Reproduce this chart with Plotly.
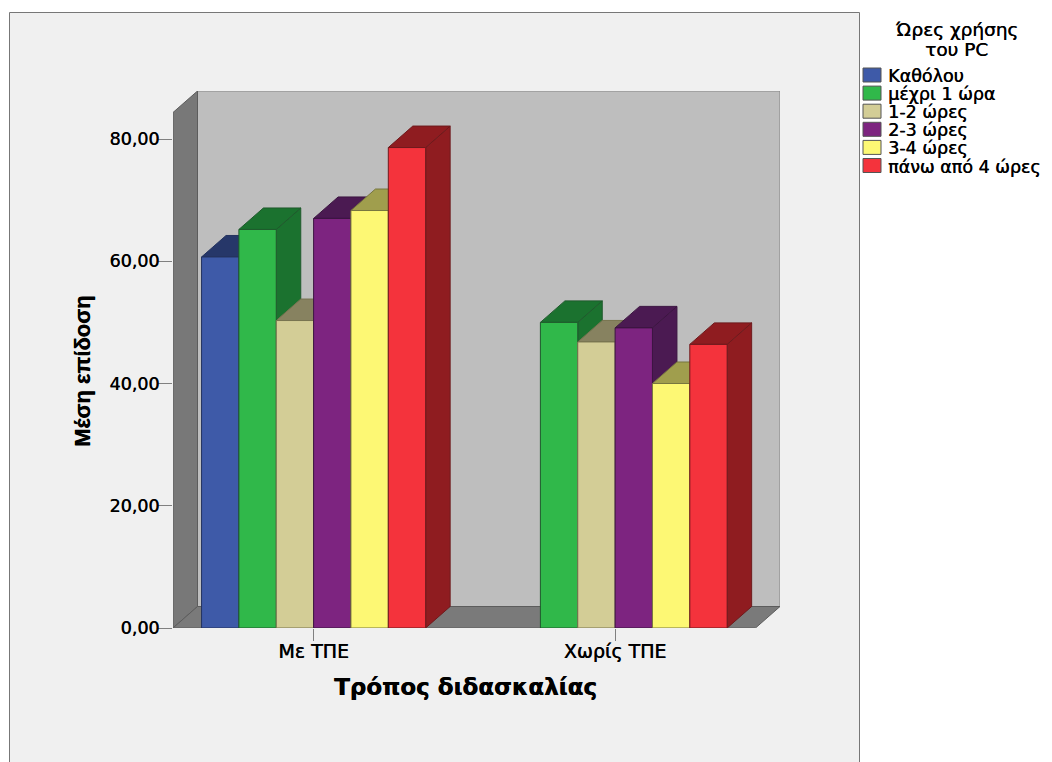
import plotly.graph_objects as go

# Mean performance by teaching method and daily PC hours
methods = ["Με ΤΠΕ", "Χωρίς ΤΠΕ"]
usage_groups = ["Καθόλου", "μέχρι 1 ώρα", "1-2 ώρες", "2-3 ώρες", "3-4 ώρες", "πάνω από 4 ώρες"]
none_at_all = [60.7, None]
up_to_1h = [65.2, 50.0]
h1_2 = [50.3, 46.8]
h2_3 = [67.0, 49.1]
h3_4 = [68.3, 40.0]
over_4h = [78.6, 46.4]
series = [none_at_all, up_to_1h, h1_2, h2_3, h3_4, over_4h]

front_colors = ["#3e5aa8", "#30b84a", "#d3cd96", "#7d2480", "#fdf874", "#f4333c"]
shade_colors = ["#263769", "#1b722f", "#878260", "#4b1a52", "#a09e4d", "#8f1c20"]
edge_colors = ["#24335f", "#1f5a2c", "#77734f", "#3c1541", "#77763f", "#6e1a1c"]

y_ticks = [0, 20, 40, 60, 80]
y_tick_text = ["0,00", "20,00", "40,00", "60,00", "80,00"]

# Plot frame, in page pixels
W, H = 1052, 762
LEFT, RIGHT, TOP, BOTTOM = 173, 780, 91, 628
PX_PER_UNIT_Y = (628 - 139) / 80
PX_PER_GROUP = 301.5
CENTER0 = 313.6

x_range = [(LEFT - CENTER0) / PX_PER_GROUP, (RIGHT - CENTER0) / PX_PER_GROUP]
y_range = [0, (BOTTOM - TOP) / PX_PER_UNIT_Y]
depth_x = 24.5 / PX_PER_GROUP
depth_y = 21.5 / PX_PER_UNIT_Y
bar_w = 37.35 / PX_PER_GROUP

HEAVY = "0.4px 0 0 #000000"


def paper_x(px):
    return (px - LEFT) / (RIGHT - LEFT)


def paper_y(py):
    return (BOTTOM - py) / (BOTTOM - TOP)


fig = go.Figure()

# Side and top faces of each bar, painted left to right
for i, values in enumerate(series):
    for g, v in enumerate(values):
        if v is None:
            continue
        x0 = g + (i - 3) * bar_w
        x1 = x0 + bar_w
        fig.add_trace(go.Scatter(
            x=[x1, x1 + depth_x, x1 + depth_x, x1, x1],
            y=[0, depth_y, v + depth_y, v, 0],
            mode="lines", fill="toself", fillcolor=shade_colors[i],
            line=dict(color=edge_colors[i], width=1),
            hoverinfo="skip", showlegend=False,
        ))
        fig.add_trace(go.Scatter(
            x=[x0, x1, x1 + depth_x, x0 + depth_x, x0],
            y=[v, v, v + depth_y, v + depth_y, v],
            mode="lines", fill="toself", fillcolor=shade_colors[i],
            line=dict(color=edge_colors[i], width=1),
            hoverinfo="skip", showlegend=False,
        ))

# Front faces sit on an overlaid subplot so they cover every shaded face
for i, values in enumerate(series):
    fig.add_trace(go.Bar(
        x=[g + (i - 2.5) * bar_w for g in range(len(methods))],
        y=values, width=bar_w, name=usage_groups[i],
        marker=dict(color=front_colors[i], line=dict(color=edge_colors[i], width=1)),
        xaxis="x2", yaxis="y2", showlegend=False,
    ))

wall_line = dict(color="#5c5c5c", width=1)
x_lo, x_hi = x_range
shapes = [
    # Chart panel
    dict(type="rect", xref="paper", yref="paper", layer="below",
         x0=paper_x(9.5), x1=paper_x(859.5), y0=paper_y(775), y1=paper_y(12.5),
         fillcolor="#f0f0f0", line=dict(color="#777777", width=1)),
    # Back wall
    dict(type="rect", layer="below", x0=x_lo + depth_x, x1=x_hi, y0=depth_y, y1=y_range[1],
         fillcolor="#bebebe", line=dict(color="#858585", width=1)),
    # Left wall
    dict(type="path", layer="below",
         path=f"M{x_lo},0 L{x_lo + depth_x},{depth_y} L{x_lo + depth_x},{y_range[1]} "
              f"L{x_lo},{y_range[1] - depth_y} Z",
         fillcolor="#787878", line=wall_line),
    # Floor
    dict(type="path", layer="below",
         path=f"M{x_lo},0 L{x_hi - depth_x},0 L{x_hi},{depth_y} L{x_lo + depth_x},{depth_y} Z",
         fillcolor="#7a7a7a", line=wall_line),
]


def page_text(text, px, py, family="DejaVu Sans", size=16, anchor="center", angle=0, bold=False):
    return dict(text=f"<b>{text}</b>" if bold else text, xref="paper", yref="paper",
                showarrow=False, x=paper_x(px), y=paper_y(py), xanchor=anchor, yanchor="middle",
                textangle=angle,
                font=dict(family=family, size=size, color="#000000", shadow=HEAVY))


annotations = [
    page_text("Ώρες χρήσης", 956, 30, size=18.5),
    page_text("του PC", 956, 50, size=18.5),
    page_text("Τρόπος διδασκαλίας", 465, 687, size=23, bold=True),
    page_text("Μέση επίδοση", 82, 371, family="Liberation Sans", size=22, angle=-90, bold=True),
]

# Legend column
for i, label in enumerate(usage_groups):
    cy = 75 + i * 18.1
    shapes.append(dict(type="rect", xref="paper", yref="paper",
                       x0=paper_x(863), x1=paper_x(881), y0=paper_y(cy + 7), y1=paper_y(cy - 7),
                       fillcolor=front_colors[i], line=dict(color="#555555", width=1)))
    annotations.append(page_text(label, 886, cy + 1, size=17.5, anchor="left"))

fig.update_layout(
    width=W, height=H, autosize=False,
    margin=dict(l=LEFT, r=W - RIGHT, t=TOP, b=H - BOTTOM, pad=0),
    paper_bgcolor="#ffffff", plot_bgcolor="rgba(0,0,0,0)",
    barmode="overlay", showlegend=False,
    shapes=shapes, annotations=annotations,
    xaxis=dict(
        range=x_range, tickmode="array", tickvals=[0, 1], ticktext=methods,
        ticks="outside", ticklen=12, tickcolor="#808080", tickwidth=1,
        showgrid=False, zeroline=False, showline=False, ticklabelstandoff=-6,
        tickfont=dict(family="DejaVu Sans", size=19, color="#000000", shadow=HEAVY),
    ),
    yaxis=dict(
        range=y_range, tickmode="array", tickvals=y_ticks, ticktext=y_tick_text,
        ticks="outside", ticklen=15, tickcolor="#808080", tickwidth=1,
        showgrid=False, zeroline=False, showline=False, ticklabelstandoff=-6,
        tickfont=dict(family="DejaVu Sans", size=17.5, color="#000000", shadow=HEAVY),
    ),
    xaxis2=dict(range=x_range, overlaying="x", visible=False),
    yaxis2=dict(range=y_range, overlaying="y", visible=False),
)

fig.write_html("out.html")
